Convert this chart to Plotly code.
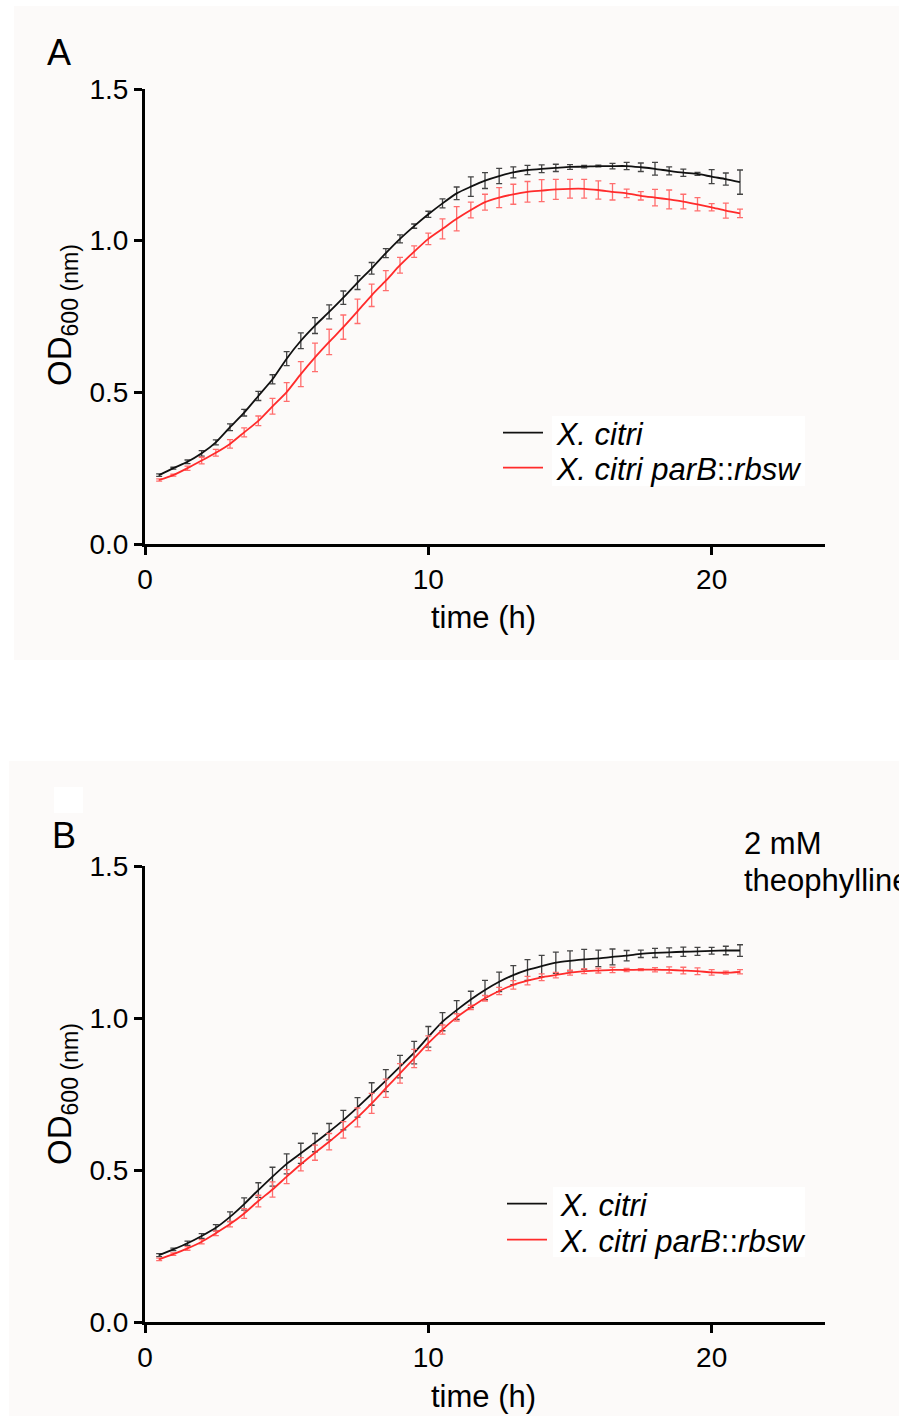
import plotly.graph_objects as go

# ---------------- data ----------------
time_h = [0.5, 1.0, 1.5, 2.0, 2.5, 3.0, 3.5, 4.0, 4.5, 5.0, 5.5, 6.0, 6.5, 7.0,
          7.5, 8.0, 8.5, 9.0, 9.5, 10.0, 10.5, 11.0, 11.5, 12.0, 12.5, 13.0, 13.5,
          14.0, 14.5, 15.0, 15.5, 16.0, 16.5, 17.0, 17.5, 18.0, 18.5, 19.0, 19.5,
          20.0, 20.5, 21.0]

series_names = ["\u00a0<i>X. citri</i>", "\u00a0<i>X. citri parB</i>::<i>rbsw</i>"]

# Panel A (no theophylline)
a_wt = [0.227, 0.250, 0.271, 0.299, 0.335, 0.385, 0.433, 0.488, 0.543, 0.611, 0.670,
        0.720, 0.765, 0.812, 0.862, 0.909, 0.959, 1.006, 1.048, 1.087, 1.123, 1.156,
        1.178, 1.198, 1.213, 1.225, 1.233, 1.237, 1.240, 1.243, 1.244, 1.246, 1.246,
        1.246, 1.242, 1.237, 1.230, 1.224, 1.220, 1.211, 1.203, 1.193]
a_wt_err = [0.004, 0.003, 0.006, 0.009, 0.008, 0.011, 0.011, 0.015, 0.015, 0.023, 0.026,
            0.026, 0.023, 0.022, 0.023, 0.019, 0.015, 0.013, 0.007, 0.010, 0.015, 0.021,
            0.032, 0.026, 0.025, 0.018, 0.015, 0.013, 0.012, 0.008, 0.004, 0.003, 0.009,
            0.012, 0.014, 0.021, 0.013, 0.012, 0.005, 0.023, 0.020, 0.040]
a_mut = [0.211, 0.227, 0.250, 0.275, 0.301, 0.330, 0.368, 0.406, 0.454, 0.501, 0.560,
         0.615, 0.666, 0.715, 0.767, 0.820, 0.868, 0.919, 0.964, 1.006, 1.039, 1.072,
         1.101, 1.127, 1.142, 1.153, 1.161, 1.165, 1.169, 1.171, 1.171, 1.167, 1.161,
         1.156, 1.148, 1.142, 1.136, 1.129, 1.120, 1.110, 1.099, 1.090]
a_mut_err = [0.004, 0.003, 0.007, 0.011, 0.011, 0.014, 0.015, 0.016, 0.026, 0.031, 0.041,
             0.047, 0.042, 0.040, 0.040, 0.037, 0.033, 0.026, 0.019, 0.019, 0.033, 0.040,
             0.026, 0.026, 0.033, 0.033, 0.034, 0.036, 0.033, 0.031, 0.031, 0.030, 0.027,
             0.014, 0.014, 0.027, 0.031, 0.024, 0.022, 0.012, 0.025, 0.014]

# Panel B (2 mM theophylline)
b_wt = [0.220, 0.239, 0.259, 0.283, 0.310, 0.346, 0.388, 0.434, 0.478, 0.520, 0.555,
        0.590, 0.626, 0.664, 0.706, 0.750, 0.794, 0.840, 0.886, 0.938, 0.988, 1.026,
        1.061, 1.092, 1.119, 1.141, 1.158, 1.171, 1.182, 1.188, 1.193, 1.196, 1.201,
        1.205, 1.211, 1.214, 1.216, 1.218, 1.219, 1.221, 1.222, 1.222]
b_wt_err = [0.005, 0.004, 0.007, 0.008, 0.010, 0.016, 0.020, 0.024, 0.031, 0.033, 0.033,
            0.030, 0.027, 0.032, 0.032, 0.037, 0.036, 0.037, 0.037, 0.034, 0.030, 0.031,
            0.027, 0.032, 0.032, 0.031, 0.034, 0.035, 0.035, 0.033, 0.033, 0.027, 0.026,
            0.017, 0.012, 0.015, 0.015, 0.015, 0.013, 0.011, 0.014, 0.019]
b_mut = [0.206, 0.223, 0.242, 0.264, 0.292, 0.322, 0.357, 0.398, 0.436, 0.478, 0.519,
         0.557, 0.593, 0.632, 0.673, 0.719, 0.769, 0.818, 0.867, 0.917, 0.962, 1.002,
         1.035, 1.065, 1.089, 1.109, 1.123, 1.134, 1.141, 1.149, 1.154, 1.156, 1.158,
         1.158, 1.159, 1.159, 1.158, 1.156, 1.154, 1.150, 1.149, 1.152]
b_mut_err = [0.004, 0.004, 0.006, 0.007, 0.008, 0.009, 0.016, 0.019, 0.025, 0.023, 0.022,
             0.025, 0.027, 0.027, 0.031, 0.033, 0.030, 0.032, 0.030, 0.024, 0.015, 0.012,
             0.007, 0.009, 0.012, 0.014, 0.014, 0.011, 0.009, 0.008, 0.008, 0.008, 0.009,
             0.005, 0.003, 0.007, 0.010, 0.011, 0.011, 0.009, 0.005, 0.007]

x_ticks = [0, 10, 20]
y_ticks = [0.0, 0.5, 1.0, 1.5]

# ---------------- figure ----------------
W, H = 899, 1416
FONT = "Liberation Sans, Arial, sans-serif"
BLACK_LINE, BLACK_ERR = "#111111", "#444444"
RED_LINE, RED_ERR = "#ff2b2b", "#ff6e6e"

def px_x(p):
    return p / W

def px_y(p):
    return 1 - p / H

fig = go.Figure()

panels = [
    ("x", "y", "legend", "legend2", a_wt, a_wt_err, a_mut, a_mut_err),
    ("x2", "y2", "legend3", "legend4", b_wt, b_wt_err, b_mut, b_mut_err),
]
for xa, ya, lg1, lg2, wt, wte, mu, mue in panels:
    fig.add_trace(go.Scatter(
        x=time_h, y=wt, xaxis=xa, yaxis=ya, legend=lg1, name=series_names[0],
        mode="lines", line=dict(color=BLACK_LINE, width=1.8, shape="spline", smoothing=0.6),
        error_y=dict(type="data", array=wte, color=BLACK_ERR, thickness=1.3, width=3),
    ))
    fig.add_trace(go.Scatter(
        x=time_h, y=mu, xaxis=xa, yaxis=ya, legend=lg2, name=series_names[1],
        mode="lines", line=dict(color=RED_LINE, width=1.8, shape="spline", smoothing=0.6),
        error_y=dict(type="data", array=mue, color=RED_ERR, thickness=1.3, width=3),
    ))

axis_common = dict(
    showline=True, linewidth=3, linecolor="black", ticks="outside", ticklen=8,
    tickwidth=3, tickcolor="black", showgrid=False, zeroline=False, automargin=False,
    tickfont=dict(family=FONT, size=28, color="black"),
)
xdom = [px_x(145), px_x(825)]
fig.update_layout(
    xaxis=dict(domain=xdom, range=[0, 24], tickvals=x_ticks, anchor="y", **axis_common),
    yaxis=dict(domain=[px_y(544), px_y(89)], range=[0, 1.5], tickvals=y_ticks,
               tickformat=".1f", anchor="x", **axis_common),
    xaxis2=dict(domain=xdom, range=[0, 24], tickvals=x_ticks, anchor="y2", **axis_common),
    yaxis2=dict(domain=[px_y(1322), px_y(866)], range=[0, 1.5], tickvals=y_ticks,
                tickformat=".1f", anchor="x2", **axis_common),
)

legend_common = dict(
    bgcolor="rgba(0,0,0,0)", font=dict(family=FONT, size=31, color="black"),
    xanchor="left", yanchor="middle", itemwidth=40, tracegroupgap=0,
)
fig.update_layout(
    legend=dict(x=px_x(498), y=px_y(433), **legend_common),
    legend2=dict(x=px_x(498), y=px_y(468), **legend_common),
    legend3=dict(x=px_x(502), y=px_y(1204), **legend_common),
    legend4=dict(x=px_x(502), y=px_y(1240), **legend_common),
    showlegend=True,
)

# panel backgrounds and legend white boxes
shapes = [
    dict(type="rect", xref="paper", yref="paper", x0=px_x(14), x1=1.0, y0=px_y(660), y1=px_y(6),
         fillcolor="#fcfaf9", line=dict(width=0), layer="below"),
    dict(type="rect", xref="paper", yref="paper", x0=px_x(9), x1=1.0, y0=0.0, y1=px_y(761),
         fillcolor="#fcfaf9", line=dict(width=0), layer="below"),
    dict(type="rect", xref="paper", yref="paper", x0=px_x(552), x1=px_x(805), y0=px_y(486), y1=px_y(416),
         fillcolor="white", line=dict(width=0), layer="below"),
    dict(type="rect", xref="paper", yref="paper", x0=px_x(553), x1=px_x(805), y0=px_y(1257), y1=px_y(1187),
         fillcolor="white", line=dict(width=0), layer="below"),
    dict(type="rect", xref="paper", yref="paper", x0=px_x(54), x1=px_x(83), y0=px_y(813), y1=px_y(787),
         fillcolor="white", line=dict(width=0), layer="below"),
]

title_font = dict(family=FONT, size=31, color="black")
ytitle_font = dict(family=FONT, size=33, color="black")
letter_font = dict(family=FONT, size=36, color="black")
note_font = dict(family=FONT, size=31, color="black")

def ann(text, x, y, font, xanchor="center", angle=0):
    return dict(text=text, x=px_x(x), y=px_y(y), xref="paper", yref="paper", showarrow=False,
                xanchor=xanchor, yanchor="middle", textangle=angle, font=font)

annotations = [
    ann("A", 59, 52, letter_font),
    ann("B", 64, 835, letter_font),
    ann("2 mM", 742, 843, note_font, xanchor="left"),
    ann("theophylline", 742, 880, note_font, xanchor="left"),
    ann("time (h)", 484, 617, title_font),
    ann("time (h)", 484, 1396, title_font),
    ann("OD<sub>600 (nm)</sub>", 62, 315, ytitle_font, angle=-90),
    ann("OD<sub>600 (nm)</sub>", 62, 1094, ytitle_font, angle=-90),
]

fig.update_layout(
    width=W, height=H, margin=dict(l=0, r=0, t=0, b=0, autoexpand=False),
    paper_bgcolor="white", plot_bgcolor="rgba(0,0,0,0)",
    shapes=shapes, annotations=annotations,
    font=dict(family=FONT, color="black"),
)

fig.write_html(
    "out.html",
    config={"displayModeBar": False},
    post_script="document.body.style.margin='0';document.body.style.padding='0';"
                "document.body.style.overflow='hidden';"
                "document.documentElement.style.overflow='hidden';",
)
